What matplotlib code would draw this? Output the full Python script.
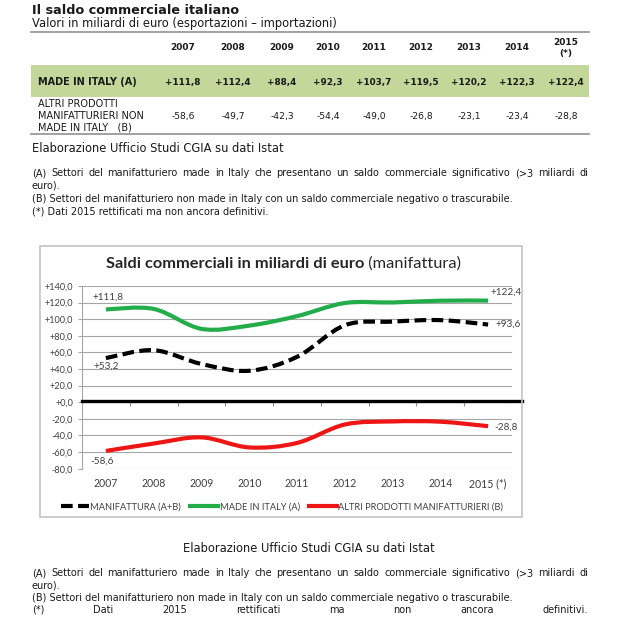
import numpy as np
import matplotlib
matplotlib.use("Agg")
import matplotlib.pyplot as plt
from matplotlib.path import Path
from matplotlib.patches import PathPatch, Rectangle
from matplotlib.lines import Line2D

# ----------------------------- #
# dati (miliardi di euro)
# ----------------------------- #
anni = ["2007", "2008", "2009", "2010", "2011", "2012", "2013", "2014", "2015 (*)"]
anni_tabella = ["2007", "2008", "2009", "2010", "2011", "2012", "2013", "2014", "2015\n(*)"]
made_in_italy = [111.8, 112.4, 88.4, 92.3, 103.7, 119.5, 120.2, 122.3, 122.4]
altri_prodotti = [-58.6, -49.7, -42.3, -54.4, -49.0, -26.8, -23.1, -23.4, -28.8]
manifattura = [53.2, 62.7, 46.1, 37.9, 54.7, 92.7, 97.1, 98.9, 93.6]
valori_y = list(range(-80, 141, 20))

nota_fonte = "Elaborazione Ufficio Studi CGIA su dati Istat"
nota_a = "(A) Settori del manifatturiero made in Italy che presentano un saldo commerciale significativo (>3 miliardi di"
nota_a2 = "euro)."
nota_b = "(B) Settori del manifatturiero non made in Italy con un saldo commerciale negativo o trascurabile."
nota_s = "(*) Dati 2015 rettificati ma non ancora definitivi."

W = H = 620
TXT = "#1a1a1a"
GRIGIO = "#404040"
VERDE = "#22ad4a"
ROSSO = "#ee1515"
NOTE = 7.0


def fx(x):
    return x / W


def fy(y):
    return 1 - y / H


def num(v, segno=True):
    s = f"{v:+.1f}" if segno else f"{v:.1f}"
    return s.replace(".", ",")


fig = plt.figure(figsize=(6.2, 6.2), dpi=100)
fig.patch.set_facecolor("white")
r = fig.canvas.get_renderer()


def giustifica(testo, y, x0, x1, size):
    parole = testo.split()
    oggetti = [fig.text(0, fy(y), p, size=size, va="center", ha="left", color=TXT) for p in parole]
    larghezze = [o.get_window_extent(r).width for o in oggetti]
    gap = ((x1 - x0) - sum(larghezze)) / (len(parole) - 1)
    x = x0
    for o, w in zip(oggetti, larghezze):
        o.set_x(fx(x))
        x += w + gap


# ----------------------------- #
# tabella in alto
# ----------------------------- #
fig.text(fx(32), fy(10), "Il saldo commerciale italiano", size=9.2, weight="bold", va="center", color=TXT)
fig.text(fx(32), fy(23), "Valori in miliardi di euro (esportazioni \u2013 importazioni)", size=8.3,
         va="center", color=TXT)
for yy in (32, 134):
    fig.add_artist(Line2D([fx(31), fx(589)], [fy(yy)] * 2, color="#9a9a9a", lw=1.3))
fig.add_artist(Rectangle((fx(31), fy(97)), fx(589) - fx(31), 32 / H, transform=fig.transFigure,
                         facecolor="#c4d79b", edgecolor="none", zorder=-1))

col_x = [183, 233, 282, 328, 374, 421, 469, 517, 566]
for x, a, va, vb in zip(col_x, anni_tabella, made_in_italy, altri_prodotti):
    fig.text(fx(x), fy(48), a, size=6.5, weight="bold", ha="center", va="center", color=TXT,
             linespacing=1.25)
    fig.text(fx(x), fy(82), num(va), size=6.4, weight="bold", ha="center", va="center", color=TXT)
    fig.text(fx(x), fy(116), num(vb, False), size=6.6, ha="center", va="center", color=TXT)
fig.text(fx(38), fy(82), "MADE IN ITALY (A)", size=7.0, weight="bold", va="center", color=TXT)
fig.text(fx(38), fy(116), "ALTRI PRODOTTI\nMANIFATTURIERI NON\nMADE IN ITALY   (B)", size=7.0,
         va="center", color=TXT, linespacing=1.2)

fig.text(fx(32), fy(149), nota_fonte, size=8.3, va="center", color=TXT)
giustifica(nota_a, 173, 32, 588, NOTE)
fig.text(fx(32), fy(186), nota_a2, size=NOTE, va="center", color=TXT)
fig.text(fx(32), fy(199), nota_b, size=NOTE, va="center", color=TXT)
fig.text(fx(32), fy(211), nota_s, size=NOTE, va="center", color=TXT)

# ----------------------------- #
# grafico
# ----------------------------- #
fig.add_artist(Rectangle((fx(40), fy(517)), fx(522) - fx(40), (517 - 246) / H, transform=fig.transFigure,
                         facecolor="none", edgecolor="#c3c3c3", lw=1.2))

t1 = fig.text(0, fy(264), "Saldi commerciali in miliardi di euro", size=11.8, weight="bold",
              family="Lato", va="center", color="#262626")
t2 = fig.text(0, fy(264), " (manifattura)", size=11.8, family="Lato", va="center", color="#262626")
w1 = t1.get_window_extent(r).width
w2 = t2.get_window_extent(r).width
x0 = 283.5 - (w1 + w2) / 2
t1.set_x(fx(x0))
t2.set_x(fx(x0 + w1))

ax = fig.add_axes([fx(82), fy(468.7), fx(512) - fx(82), (468.7 - 286) / H])
ax.patch.set_alpha(0)
ax.set_xlim(-0.5, len(anni) - 0.5)
ax.set_ylim(-80, 140)
ax.set_yticks(valori_y)
ax.set_yticklabels([num(v) for v in valori_y], family="Lato", size=6.6, color=GRIGIO)
ax.set_xticks(range(len(anni)))
ax.set_xticklabels(anni, family="Lato", size=7.6, color=GRIGIO)
ax.tick_params(axis="x", length=0, pad=7)
ax.tick_params(axis="y", length=3, color="#a6a6a6", width=0.8, pad=3.5)
ax.grid(axis="y", color="#a6a6a6", lw=0.8)
ax.set_axisbelow(True)
for s in ("top", "right", "bottom"):
    ax.spines[s].set_visible(False)
ax.spines["left"].set_color("#a6a6a6")
ax.spines["left"].set_linewidth(0.8)


def curva(valori):
    pts = np.column_stack([np.arange(len(valori)), valori])
    verts = [pts[0]]
    codes = [Path.MOVETO]
    n = len(pts)
    for i in range(n - 1):
        p0 = pts[max(i - 1, 0)]
        p1 = pts[i]
        p2 = pts[i + 1]
        p3 = pts[min(i + 2, n - 1)]
        verts += [p1 + (p2 - p0) / 6, p2 - (p3 - p1) / 6, p2]
        codes += [Path.CURVE4] * 3
    return Path(verts, codes)


# asse dello zero e tacche delle categorie
ax.axhline(2, xmin=0, xmax=(522 - 82) / 430, color="black", lw=2.4, clip_on=False, zorder=3)
ax.vlines(np.arange(len(anni)) + 0.5, -5, 1, color="#8c8c8c", lw=0.8, zorder=2)

tratteggio = (0, (2.8, 1.3))
ax.add_patch(PathPatch(curva(made_in_italy), fill=False, edgecolor=VERDE, lw=3, zorder=4))
ax.add_patch(PathPatch(curva(altri_prodotti), fill=False, edgecolor=ROSSO, lw=3, zorder=4))
ax.add_patch(PathPatch(curva(manifattura), fill=False, edgecolor="black", lw=3,
                       linestyle=tratteggio, capstyle="butt", zorder=5))

etichette = [
    (0, made_in_italy[0], (2, 12), "center"),
    (8, made_in_italy[-1], (2, 8), "left"),
    (0, manifattura[0], (0, -8), "center"),
    (8, manifattura[-1], (7, 0), "left"),
    (0, altri_prodotti[0], (-4, -10), "center"),
    (8, altri_prodotti[-1], (6, -1), "left"),
]
for i, v, off, ha in etichette:
    ax.annotate(num(v), (i, v), xytext=off, textcoords="offset pixels", ha=ha, va="center",
                family="Lato", size=7.2, color=GRIGIO, annotation_clip=False)

maniglie = [
    Line2D([], [], color="black", lw=3, linestyle=tratteggio, dash_capstyle="butt"),
    Line2D([], [], color=VERDE, lw=3),
    Line2D([], [], color=ROSSO, lw=3),
]
leg = fig.legend(maniglie, ["MANIFATTURA (A+B)", "MADE IN ITALY (A)", "ALTRI PRODOTTI MANIFATTURIERI (B)"],
                 loc="center", bbox_to_anchor=(fx(282), fy(507)), ncol=3, frameon=False,
                 prop={"family": "Lato", "size": 6.7}, handlelength=3.0, handletextpad=0.15,
                 columnspacing=1.0, labelcolor=GRIGIO)

# ----------------------------- #
# note sotto il grafico
# ----------------------------- #
fig.text(fx(309), fy(548), nota_fonte, size=8.3, ha="center", va="center", color=TXT)
giustifica(nota_a, 573, 32, 588, NOTE)
fig.text(fx(32), fy(586), nota_a2, size=NOTE, va="center", color=TXT)
fig.text(fx(32), fy(598), nota_b, size=NOTE, va="center", color=TXT)
giustifica(nota_s, 610, 32, 588, NOTE)

fig.savefig("out.png", dpi=100)
